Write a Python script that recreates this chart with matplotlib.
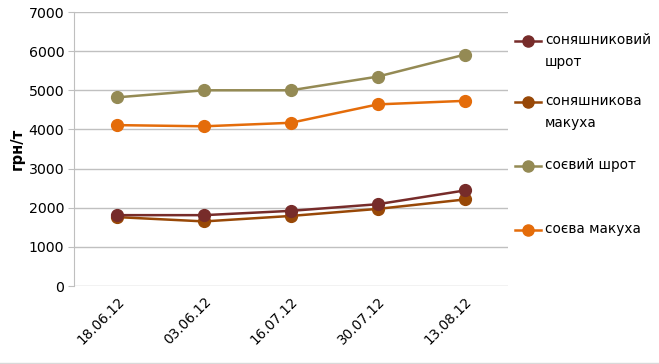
import matplotlib.pyplot as plt
from matplotlib.lines import Line2D

# data
dates = ["18.06.12", "03.06.12", "16.07.12", "30.07.12", "13.08.12"]
sun_meal = [1810, 1810, 1920, 2090, 2440]
sun_cake = [1760, 1650, 1790, 1970, 2210]
soy_meal = [4820, 5000, 5000, 5350, 5910]
soy_cake = [4110, 4080, 4170, 4640, 4730]

names = ["соняшниковий\nшрот", "соняшникова\nмакуха", "соєвий шрот", "соєва макуха"]
colors = ["#772C2A", "#984807", "#948A54", "#E46C0A"]
series = [sun_meal, sun_cake, soy_meal, soy_cake]

plt.rcParams['font.family'] = ['DejaVu Sans']

fig = plt.figure(figsize=(6.59, 3.64), dpi=100)
ax = fig.add_axes([74 / 659, 1 - 286 / 364, 434 / 659, 274 / 364])

x = range(len(dates))
# draw in reverse so sunflower meal ends up on top
for vals, c in reversed(list(zip(series, colors))):
    ax.plot(x, vals, color=c, lw=1.8, marker="o", ms=8.5, zorder=3)

ax.set_xlim(-0.5, len(dates) - 0.5)
ax.set_ylim(0, 7000)
ax.set_yticks(range(0, 7001, 1000))
ax.set_xticks(list(x))
ax.set_xticklabels(dates, rotation=45, ha="right", va="top", rotation_mode="anchor")
ax.grid(axis="y", color="#C0C0C0", lw=1)
ax.set_axisbelow(True)
for s in ["top", "right", "bottom"]:
    ax.spines[s].set_visible(False)
ax.spines["left"].set_color("#BFBFBF")
ax.tick_params(axis="y", length=4, color="#BFBFBF", labelsize=10.2, pad=3)
ax.tick_params(axis="x", length=0, labelsize=9.8, pad=6)
ax.set_ylabel("грн/т", fontsize=10.5, fontweight="bold", labelpad=3)

# legend placed by hand, marker on the first line of each label
leg_y = [41, 102, 166, 230]
for name, c, yy in zip(names, colors, leg_y):
    yf = 1 - yy / 364
    fig.add_artist(Line2D([515 / 659, 528 / 659, 541 / 659], [yf, yf, yf], color=c, lw=1.8,
                          marker="o", ms=8, markevery=[1]))
    fig.text(545 / 659, yf + 8 / 364, name, fontsize=9.8, va="top", ha="left",
             linespacing=1.75)

# chart border at the bottom
fig.add_artist(Line2D([0, 1], [1.5 / 364, 1.5 / 364], color="#D9D9D9", lw=1))

fig.savefig("out.png", dpi=100)
